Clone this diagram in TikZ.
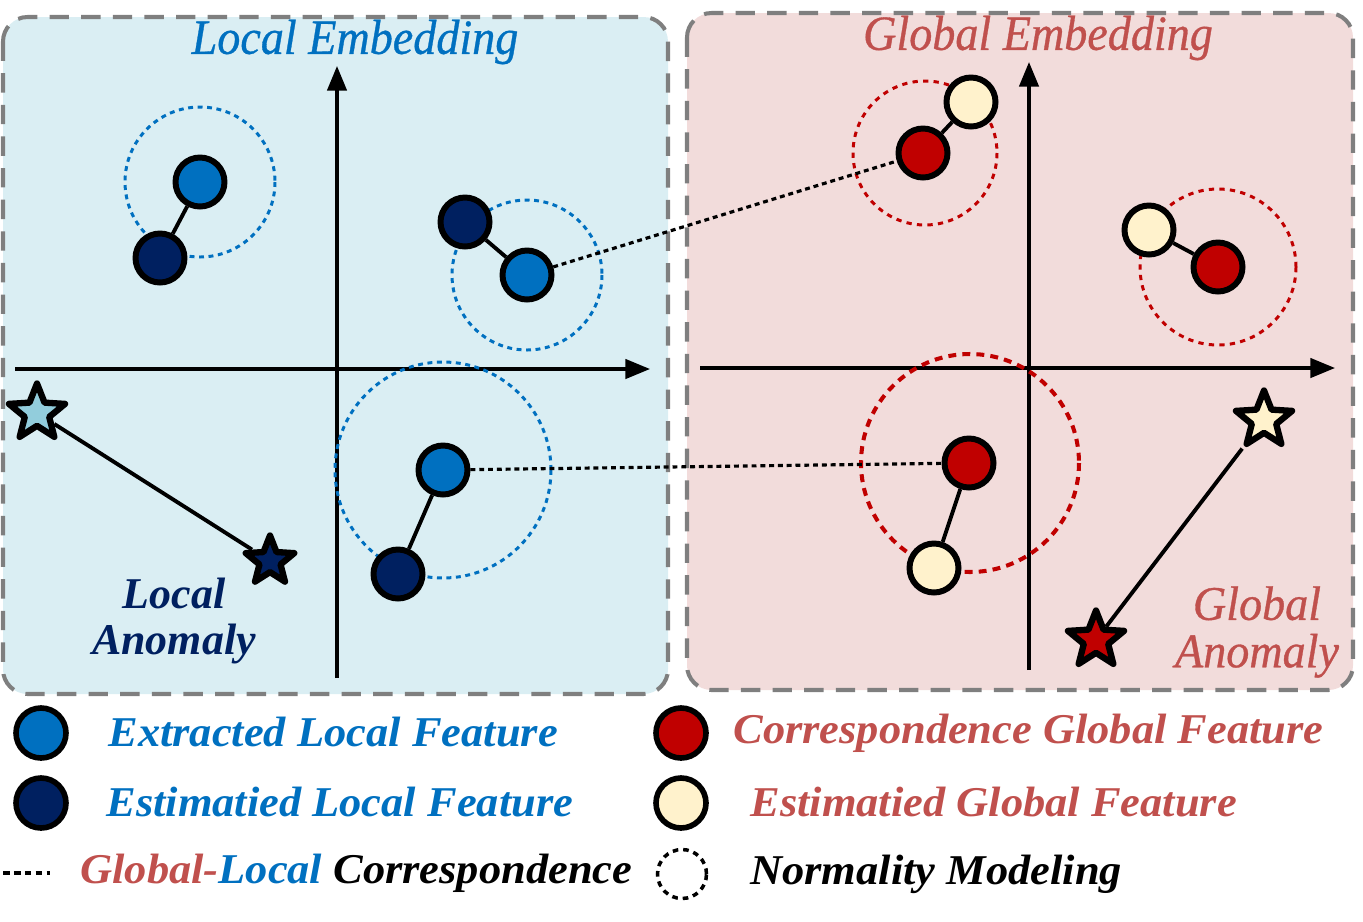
\documentclass[tikz,border=0pt]{standalone}
\usepackage{fontspec}
\setmainfont{Liberation Serif}
\newfontfamily\ttlfont{Liberation Serif}[ItalicFeatures={FakeBold=0.7}]
\usetikzlibrary{shapes.geometric,arrows.meta}
\definecolor{lbg}{HTML}{DAEEF3}
\definecolor{rbg}{HTML}{F2DCDB}
\definecolor{cblue}{HTML}{0070C0}
\definecolor{cnavy}{HTML}{002060}
\definecolor{cred}{HTML}{C00000}
\definecolor{ccream}{HTML}{FFF2CC}
\definecolor{tred}{HTML}{C0504D}
\definecolor{lstar}{HTML}{92CDDC}
\definecolor{bord}{HTML}{7F7F7F}
\tikzset{
  panel/.style={draw=bord, line width=2.3pt, dash pattern=on 11pt off 7pt, rounded corners=14pt},
  axis/.style={line width=1.9pt, -{Triangle[length=14pt,width=11pt]}},
  feat/.style={circle, draw=black, line width=3.4pt, minimum size=0.98cm, inner sep=0pt},
  lfeat/.style={circle, draw=black, line width=3.2pt, minimum size=1.0cm, inner sep=0pt},
  star5/.style={star, star points=5, star point ratio=2.3, draw=black, line width=3.6pt, inner sep=0pt, line join=round},
  link/.style={line width=2.2pt},
  corr/.style={line width=1.8pt, dash pattern=on 2.8pt off 2.2pt},
  normb/.style={cblue, line width=1.7pt, dash pattern=on 2.8pt off 2.6pt},
  normr/.style={cred, line width=1.7pt, dash pattern=on 3pt off 3pt},
  normR/.style={cred, line width=2.3pt, dash pattern=on 4.5pt off 3.5pt},
  ttl/.style={font=\fontsize{25}{29}\selectfont\ttlfont\itshape, inner sep=0pt},
  leg/.style={font=\fontsize{23}{27}\selectfont\bfseries\itshape, inner sep=0pt, anchor=west},
}
\begin{document}
\begin{tikzpicture}[x=0.02cm,y=-0.02cm]
\useasboundingbox (0,0) rectangle (1363,921);
% panels
\draw[panel, fill=lbg] (3,17) rectangle (668,694);
\draw[panel, fill=rbg] (687,13) rectangle (1353,690);
% titles
\node[ttl, text=cblue] (tl) at (355,42) {\scalebox{1.05}[1.12]{Local Embedding}};
\node[ttl, text=tred] (tr) at (1038,38) {\scalebox{1.05}[1.12]{Global Embedding}};
% axes
\coordinate (lyb) at (337,678); \coordinate (lyt) at (337,66);
\coordinate (lxl) at (15,369); \coordinate (lxr) at (650,369);
\draw[axis] (lyb) -- (lyt);
\draw[axis] (lxl) -- (lxr);
\coordinate (ryb) at (1029,670); \coordinate (ryt) at (1029,62);
\coordinate (rxl) at (700,368); \coordinate (rxr) at (1335,368);
\draw[axis] (ryb) -- (ryt);
\draw[axis] (rxl) -- (rxr);
% normality circles
\draw[normb] (200,182) circle (75);
\draw[normb] (527,275) circle (75);
\draw[normb] (443,470) circle (108);
\draw[normr] (925,153) circle (72);
\draw[normr] (1218,267) circle (78);
\draw[normR] (970,463) circle (109);
% left features
\node[feat, fill=cblue] (b1) at (200,182) {};
\node[feat, fill=cnavy] (n1) at (160,258) {};
\node[feat, fill=cnavy] (n2) at (465,222) {};
\node[feat, fill=cblue] (b2) at (527,275) {};
\node[feat, fill=cblue] (b3) at (443,470) {};
\node[feat, fill=cnavy] (n3) at (398,574) {};
\draw[link] (b1) -- (n1);
\draw[link] (n2) -- (b2);
\draw[link] (b3) -- (n3);
% right features
\node[feat, fill=cred] (r1) at (923,153) {};
\node[feat, fill=ccream] (c1) at (971,102) {};
\node[feat, fill=ccream] (c2) at (1149,230) {};
\node[feat, fill=cred] (r2) at (1218,267) {};
\node[feat, fill=cred] (r3) at (969,463) {};
\node[feat, fill=ccream] (c3) at (934,568) {};
\draw[link] (r1) -- (c1);
\draw[link] (c2) -- (r2);
\draw[link] (r3) -- (c3);
% correspondences
\draw[corr] (b2) -- (r1);
\draw[corr] (b3) -- (r3);
% stars
\node[star5, fill=lstar, minimum size=1.18cm] (s1) at (37,413) {};
\node[star5, fill=cnavy, minimum size=1.02cm] (s2) at (270,561) {};
\draw[link] (s1) -- (s2);
\node[star5, fill=ccream, minimum size=1.18cm] (s3) at (1264,420) {};
\node[star5, fill=cred, minimum size=1.18cm] (s4) at (1096,640) {};
\draw[link] (s3) -- (s4);
% anomaly labels
\node[font=\fontsize{25}{29}\selectfont\bfseries\itshape, text=cnavy, align=center, inner sep=0pt] (la) at (174,621) {Local\\[-3pt]Anomaly};
\node[font=\fontsize{25}{29}\selectfont\ttlfont\itshape, text=tred, align=center, inner sep=0pt] (ga) at (1257,632) {\scalebox{1.05}[1.1]{Global}\\[-2pt]\scalebox{1.05}[1.1]{Anomaly}};
% legend
\node[lfeat, fill=cblue] (lg1) at (41,733) {};
\node[leg, text=cblue] (lt1) at (108,732) {\scalebox{1.1}[1.05]{Extracted Local Feature}};
\node[lfeat, fill=cnavy] (lg2) at (41,803) {};
\node[leg, text=cblue] (lt2) at (106,802) {\scalebox{1.1}[1.05]{Estimatied Local Feature}};
\coordinate (d1) at (3,873); \coordinate (d2) at (50,873);
\draw[line width=2.2pt, dash pattern=on 3.8pt off 2.4pt] (d1) -- (d2);
\node[leg] (lt3) at (80,873) {\scalebox{1.1}[1.05]{\textcolor{tred}{Global-}\textcolor{cblue}{Local} \textcolor{black}{Correspondence}}};
\node[lfeat, fill=cred] (lg4) at (681,733) {};
\node[leg, text=tred] (lt4) at (733,733) {\scalebox{1.1}[1.05]{Correspondence Global Feature}};
\node[lfeat, fill=ccream] (lg5) at (681,803) {};
\node[leg, text=tred] (lt5) at (750,802) {\scalebox{1.1}[1.05]{Estimatied Global Feature}};
\node[lfeat, draw=black, line width=2pt, dash pattern=on 3.2pt off 2.8pt, minimum size=0.98cm] (lg6) at (682,874) {};
\node[leg] (lt6) at (750,874) {\scalebox{1.1}[1.05]{Normality Modeling}};
\end{tikzpicture}
\end{document}
